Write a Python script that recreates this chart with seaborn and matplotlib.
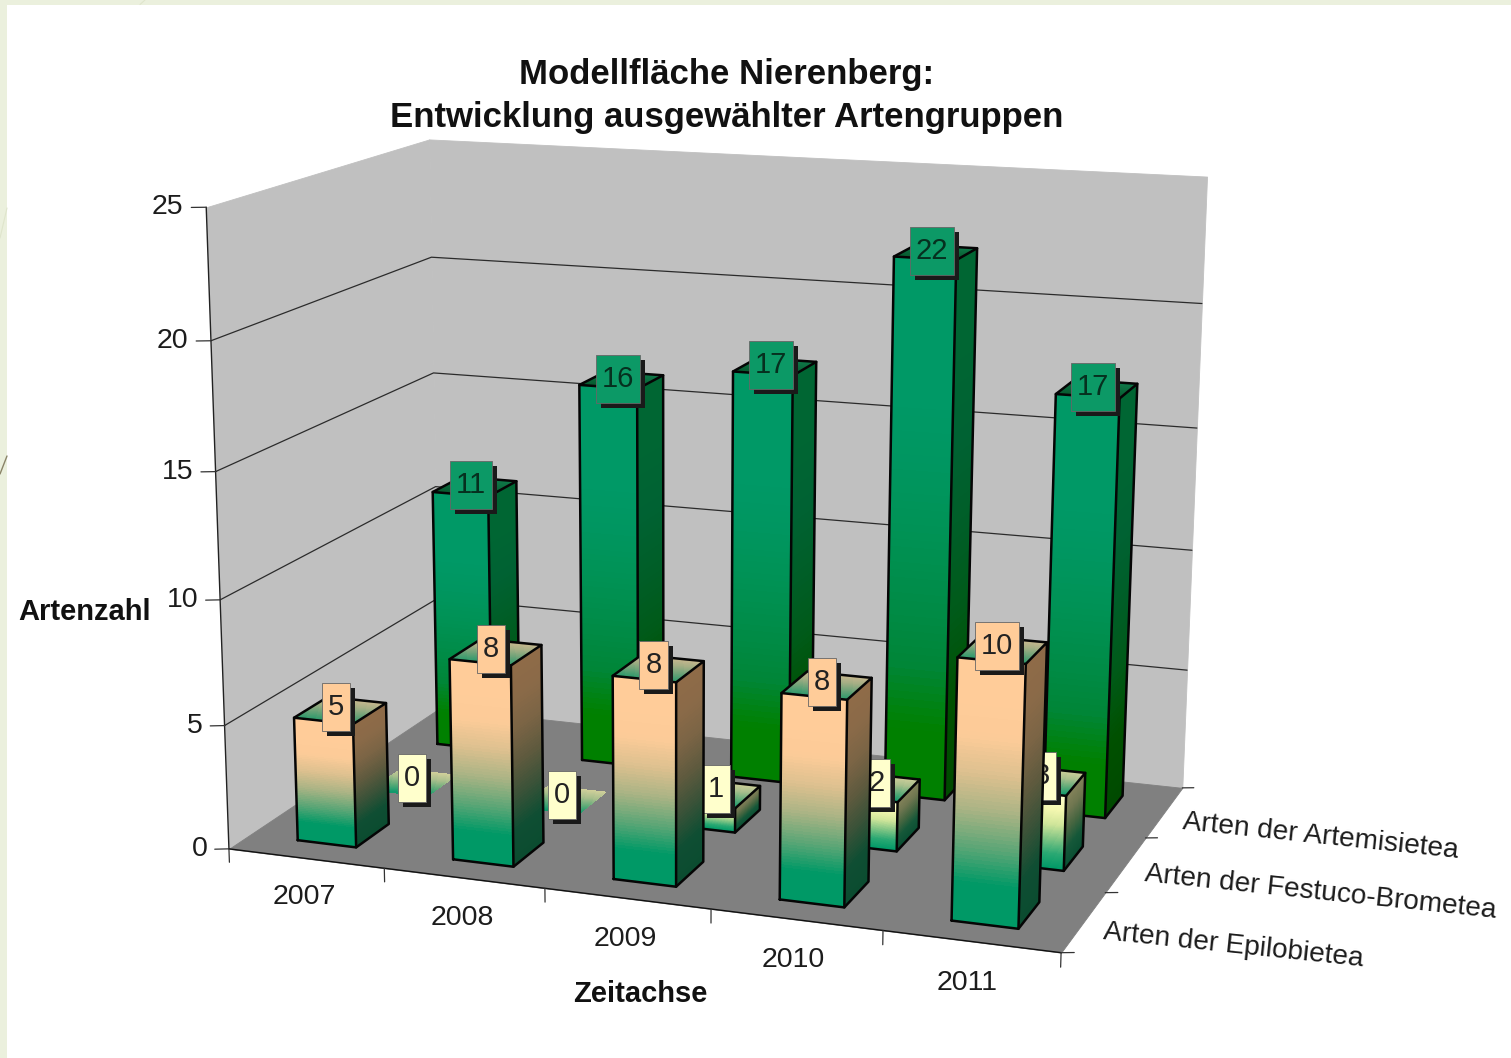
import numpy as np
import matplotlib
matplotlib.use("Agg")
import matplotlib.pyplot as plt
import matplotlib.path as mpath
import matplotlib.patheffects as pe
from matplotlib.colors import to_rgba
from matplotlib.patches import Rectangle
from matplotlib.lines import Line2D
from mpl_toolkits.mplot3d import proj3d
from mpl_toolkits.mplot3d.art3d import Poly3DCollection
import seaborn as sns

# ---- data -------------------------------------------------------------
years = ["2007", "2008", "2009", "2010", "2011"]
series_names = ["Arten der Epilobietea", "Arten der Festuco-Brometea", "Arten der Artemisietea"]
epilobietea = [5, 8, 8, 8, 10]
festuco_brometea = [0, 0, 1, 2, 3]
artemisietea = [11, 16, 17, 22, 17]
z_ticks = [0, 5, 10, 15, 20, 25]
title = "Modellfläche Nierenberg:\nEntwicklung ausgewählter Artengruppen"

# ---- style ------------------------------------------------------------
W, H = 1511, 1058
sns.set_theme(style="white")
plt.rcParams["font.family"] = ["Liberation Sans", "DejaVu Sans"]
TXT = "#1c1c1c"

front_stops = {
    0: ["#FFCC99", "#FFCC99", "#FCCB98", "#DCC08F", "#A9B384", "#5CA676", "#009966", "#009966"],
    1: ["#FFFFCC", "#F4F7B0", "#D0E59A", "#7FC484", "#2AA873", "#009966"],
    2: ["#009966", "#009966", "#009966", "#009660", "#009255", "#008C48", "#008638", "#008000", "#008000"],
}
side_stops = {
    0: ["#8F6B48", "#8A6A48", "#7A6445", "#5E5A3E", "#3A5238", "#0F4E33", "#0B4C30"],
    1: ["#85835A", "#6F7650", "#456540", "#155839", "#0B4F33"],
    2: ["#006633", "#006633", "#006233", "#005E28", "#005A18", "#005000", "#004A00"],
}
top_stops = {
    0: ["#C9B78F", "#A3AE84", "#6BA277", "#2F9A6C"],
    1: ["#CFCF9A", "#A7BE8C", "#5FAB78", "#129A6C"],
    2: ["#0F7A4A", "#0B6A3C", "#075A2F"],
}
label_face = {0: "#FFCC99", 1: "#FFFFCC", 2: "#0C9966"}
label_text = {0: "#222222", 1: "#222222", 2: "#06301f"}
label_shift = {0: (-0.03, 0.12), 1: (-0.01, 0.18), 2: (-0.025, 0.05)}

# ---- figure and camera ------------------------------------------------
fig = plt.figure(figsize=(W / 100, H / 100), dpi=100, facecolor="white")
ax = fig.add_axes([0, (H - W) / 2 / H, 1, W / H], projection="3d", computed_zorder=False,
                  proj_type="ortho")
ax.set_axis_off()
ax.patch.set_visible(False)
ax.apply_aspect()

calib_world = np.array([
    (0, 0, 0), (1, 0, 0), (2, 0, 0), (3, 0, 0), (4, 0, 0), (5, 0, 0),
    (5, 1, 0), (5, 2, 0), (5, 3, 0), (0, 3, 0),
    (0, 0, 25), (0, 3, 25), (5, 3, 25), (5, 3, 10), (0, 3, 10), (0, 0, 10),
], float)
calib_px = np.array([
    (230, 845), (385, 867), (545, 888), (712, 912), (882, 933), (1060, 955),
    (1105, 892), (1147, 836), (1183, 785), (437, 712),
    (203, 208), (432, 138), (1207, 178), (1191, 549), (435, 488), (222, 598),
], float)
rows = []
for (x, y, z), (u, v) in zip(calib_world, calib_px):
    X = [x, y, z, 1]
    rows.append(X + [0, 0, 0, 0] + [-u * c for c in X])
    rows.append([0, 0, 0, 0] + X + [-v * c for c in X])
P = np.linalg.svd(np.array(rows))[2][-1].reshape(3, 4)
P = P / P[2, 3]
px_to_2d = ax.transData.inverted().get_matrix() @ np.array([[1, 0, 0], [0, -1, H], [0, 0, 1.0]])
P2 = px_to_2d @ P
M = np.array([P2[0], P2[1], [0, 1, 0, 0], P2[2]])
ax.get_proj = lambda: M


def label(x, y, z, s, **kw):
    tx, ty, _ = proj3d.proj_transform(x, y, z, M)
    return ax.text2D(tx, ty, s, transform=ax.transData, **kw)


# ---- walls, floor, grid, axes -----------------------------------------
XN, YN, ZN = len(years), len(series_names), z_ticks[-1]
WALL, FLOOR = "#C0C0C0", "#808080"
planes = [
    ([(0, 0, 0), (0, YN, 0), (0, YN, ZN), (0, 0, ZN)], WALL),
    ([(0, YN, 0), (XN, YN, 0), (XN, YN, ZN), (0, YN, ZN)], WALL),
    ([(0, 0, 0), (XN, 0, 0), (XN, YN, 0), (0, YN, 0)], FLOOR),
]
for k, (verts, col) in enumerate(planes):
    ax.add_collection3d(Poly3DCollection([verts], facecolors=col, edgecolors=col, linewidths=0.6,
                                         zorder=1 + k * 0.1))

for z in z_ticks[1:-1]:
    ax.plot([0, 0, XN], [0, YN, YN], [z, z, z], color="#2b2b2b", lw=0.9, zorder=2)
ax.plot([0, 0], [0, 0], [0, ZN], color="#222222", lw=1.0, zorder=3)
ax.plot([0, XN], [0, 0], [0, 0], color="#111111", lw=1.0, zorder=3)

# value axis ticks and labels
for z in z_ticks:
    ax.plot([0, -0.0754], [0, -0.0335], [z, z], color="#333333", lw=0.9, zorder=3)
    label(-0.115, -0.05, z, str(z), ha="right", va="center", fontsize=20.5, color=TXT, zorder=4)
# time axis ticks and labels
for i in range(XN + 1):
    ax.plot([i, i], [0, 0], [0, -0.55], color="#333333", lw=0.9, zorder=3)
for i, yr in enumerate(years):
    label(i + 0.485, 0, -1.6, yr, ha="center", va="center", fontsize=20.5, color=TXT, zorder=4)
# series axis ticks and labels
for r in range(YN + 1):
    ax.plot([XN, XN + 0.066], [r, r + 0.026], [0, 0], color="#333333", lw=0.9, zorder=3)
for r, name in enumerate(series_names):
    label(XN + 0.115, r + 0.5, -0.3, name, rotation=-6.0, ha="left", va="center",
          rotation_mode="anchor", fontsize=20.2, color=TXT, zorder=4)


# ---- bars -------------------------------------------------------------
def box_style(pad_x, half_h):
    def style(x0, y0, width, height, mutation_size):
        cy = y0 + height / 2
        l, r, b, t = x0 - pad_x, x0 + width + pad_x, cy - half_h, cy + half_h
        return mpath.Path([(l, b), (r, b), (r, t), (l, t), (l, b)], closed=True)
    return style


NONE = (0, 0, 0, 0)
BAR_W, BAR_D = 0.38, 0.45
N_SEG, N_TOP = 70, 24


def draw_bar(i, r, value, base_z):
    x0, x1 = i + 0.5 - BAR_W / 2, i + 0.5 + BAR_W / 2
    y0, y1 = r + 0.5 - BAR_D / 2, r + 0.5 + BAR_D / 2
    if value > 0:
        front = sns.blend_palette(front_stops[r][::-1], n_colors=N_SEG)
        side = sns.blend_palette(side_stops[r][::-1], n_colors=N_SEG)
        cols = []
        for f, s in zip(front, side):
            cols += [NONE, NONE, to_rgba(f), NONE, NONE, to_rgba(s)]
        edges = np.linspace(0, value, N_SEG + 1)
        ax.bar3d([x0] * N_SEG, [y0] * N_SEG, edges[:-1], [BAR_W] * N_SEG, [BAR_D] * N_SEG,
                 np.diff(edges), color=cols, shade=False, linewidth=0, antialiased=False,
                 zorder=base_z)
    top = sns.blend_palette(top_stops[r][::-1], n_colors=N_TOP)
    cols = []
    for c in top:
        cols += [NONE, to_rgba(c), NONE, NONE, NONE, NONE]
    ys = np.linspace(y0, y1, N_TOP + 1)
    ax.bar3d([x0] * N_TOP, ys[:-1], [value] * N_TOP, [BAR_W] * N_TOP, np.diff(ys), [0] * N_TOP,
             color=cols, shade=False, linewidth=0, antialiased=False, zorder=base_z)
    if value > 0:
        kw = dict(color="#050505", lw=1.8, zorder=base_z + 0.3, solid_joinstyle="round")
        ax.plot([x0, x1, x1, x0, x0], [y0] * 5, [0, 0, value, value, 0], **kw)
        ax.plot([x1, x1, x1, x1], [y0, y1, y1, y0], [0, 0, value, value], **kw)
        ax.plot([x0, x0, x1], [y0, y1, y1], [value] * 3, **kw)
    dx, dz = label_shift[r]
    t = label(i + 0.5 + dx, r + 0.5, value + dz, str(value), ha="center", va="center", fontsize=21,
              color=label_text[r], zorder=base_z + 0.6,
              bbox=dict(boxstyle=box_style(6, 24), facecolor=label_face[r],
                        edgecolor="#666666", linewidth=0.6))
    t.get_bbox_patch().set_path_effects([
        pe.SimplePatchShadow(offset=(3.6, -3.6), shadow_rgbFace="k", alpha=1.0), pe.Normal()])


series_values = [epilobietea, festuco_brometea, artemisietea]
for r in (2, 1, 0):
    for i, v in enumerate(series_values[r]):
        draw_bar(i, r, v, 10 + (2 - r) * 20 + i * 2)

# ---- titles -----------------------------------------------------------
fig.text(727 / W, 1 - 96 / H, title, ha="center", va="center", fontsize=25, fontweight="bold",
         color="#111111", linespacing=1.36)
fig.text(85 / W, 1 - 612 / H, "Artenzahl", ha="center", va="center", fontsize=21,
         fontweight="bold", color="#111111")
fig.text(640 / W, 1 - 994 / H, "Zeitachse", ha="center", va="center", fontsize=21,
         fontweight="bold", color="#111111")

# ---- slide margin -----------------------------------------------------
MARGIN = "#EBF0DD"
fig.add_artist(Rectangle((0, 0), 7 / W, 1, transform=fig.transFigure, color=MARGIN, lw=0))
fig.add_artist(Rectangle((0, 1 - 4.5 / H), 1, 4.5 / H, transform=fig.transFigure, color=MARGIN, lw=0))
fig.add_artist(Line2D([0, 7 / W], [1 - 238 / H, 1 - 208 / H], color="#dfe5cc", lw=0.8))
fig.add_artist(Line2D([0, 7 / W], [1 - 474 / H, 1 - 456 / H], color="#8a8468", lw=1.0))
fig.add_artist(Line2D([140 / W, 145 / W], [1 - 4.5 / H, 1], color="#dfe5cc", lw=0.8))

fig.savefig("out.png", dpi=100)
